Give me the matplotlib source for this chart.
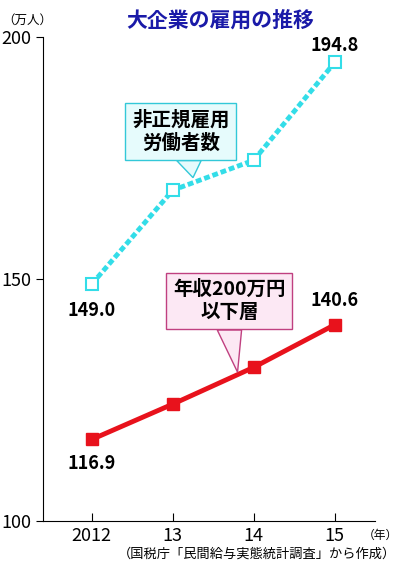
import matplotlib
matplotlib.use("Agg")
import matplotlib.pyplot as plt
from matplotlib.patches import Polygon

plt.rcParams['font.family'] = ['Noto Sans CJK JP', 'DejaVu Sans']

years = ["2012", "13", "14", "15"]
irregular = [149.0, 168.4, 174.6, 194.8]
lowincome = [116.9, 124.2, 131.8, 140.6]

fig = plt.figure(figsize=(4.0, 5.74), dpi=100)
ax = fig.add_axes([0.108, 0.092, 0.83, 0.843])
x = range(len(years))
ax.plot(x, irregular, color='#33dde8', lw=3.5, ls=(0, (1.2, 0.6)), marker='s', ms=9,
        mfc='white', mec='#33dde8', mew=1.5)
ax.plot(x, lowincome, color='#e8121c', lw=3.5, marker='s', ms=9, mfc='#e8121c', mec='#e8121c')
ax.set_xlim(-0.6, 3.5)
ax.set_ylim(100, 200)
ax.set_yticks([100, 150, 200])
ax.set_xticks(list(x))
ax.set_xticklabels(years, fontsize=13)
ax.tick_params(axis='y', labelsize=13, length=5, direction='out')
ax.tick_params(axis='x', length=6, direction='in', pad=4)
for s in ['top', 'right']:
    ax.spines[s].set_visible(False)

def lab(xi, yi, t, dy):
    ax.text(xi, yi + dy, t, ha='center', va='center', fontsize=13, fontweight='bold')
lab(0, irregular[0], "149.0", -5.5)
lab(3, irregular[3], "194.8", 3.5)
lab(0, lowincome[0], "116.9", -5)
lab(3, lowincome[3], "140.6", 5)

ax.text(1.1, 180.5, "非正規雇用\n労働者数", ha='center', va='center', fontsize=14,
        fontweight='bold', linespacing=1.3,
        bbox=dict(boxstyle='square,pad=0.35', fc='#e6fbfc', ec='#33c8d8', lw=1))
ax.add_patch(Polygon([[1.05, 174.5], [1.35, 174.5], [1.25, 171.0]], closed=True,
                     fc='#e6fbfc', ec='#33c8d8', lw=1, zorder=3))
ax.text(1.7, 145.5, "年収200万円\n以下層", ha='center', va='center', fontsize=14,
        fontweight='bold', linespacing=1.3,
        bbox=dict(boxstyle='square,pad=0.35', fc='#fce8f4', ec='#c04080', lw=1))
ax.add_patch(Polygon([[1.55, 139.5], [1.85, 139.5], [1.8, 130.8]], closed=True,
                     fc='#fce8f4', ec='#c04080', lw=1, zorder=3))

fig.text(0.005, 0.965, "（万人）", fontsize=9, va='center')
fig.text(0.55, 0.965, "大企業の雇用の推移", fontsize=15, fontweight='bold',
         color='#1a1aa8', ha='center', va='center')
fig.text(0.995, 0.068, "（年）", fontsize=8.5, ha='right', va='center')
fig.text(0.99, 0.035, "（国税庁「民間給与実態統計調査」から作成）", fontsize=9.5,
         ha='right', va='center')
fig.savefig("out.png", dpi=100)
